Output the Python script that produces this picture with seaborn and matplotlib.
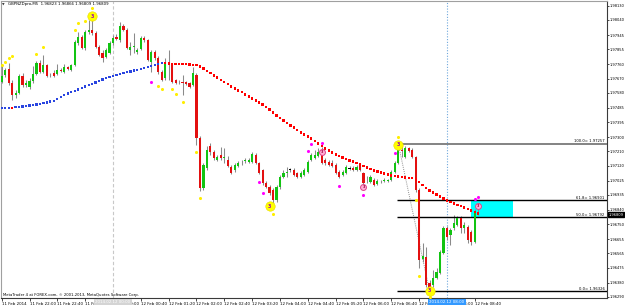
import numpy as np
import pandas as pd
import matplotlib
matplotlib.use("Agg")
import matplotlib.pyplot as plt
import matplotlib.transforms as mtransforms
import seaborn as sns

sns.set_style("white")
plt.rcParams['font.family'] = ['DejaVu Sans']

# ---------------- data (GBPNZDpro, M5) ----------------
opens = [1.97648, 1.97692, 1.97730, 1.97641, 1.97566, 1.97578, 1.97686, 1.97629, 1.97616, 1.97654,
         1.97698, 1.97768, 1.97711, 1.97755, 1.97686, 1.97705, 1.97698, 1.97724, 1.97711, 1.97743,
         1.97724, 1.97755, 1.97894, 1.97932, 1.97863, 1.97964, 1.97976, 1.97957, 1.97869, 1.97831,
         1.97806, 1.97831, 1.97894, 1.97932, 1.97913, 1.98002, 1.97976, 1.97850, 1.97869, 1.97837,
         1.97856, 1.97926, 1.97913, 1.97774, 1.97837, 1.97799, 1.97711, 1.97673, 1.97774, 1.97755,
         1.97660, 1.97648, 1.97648, 1.97648, 1.97641, 1.97629, 1.97692, 1.97294, 1.96978, 1.97104,
         1.97243, 1.97205, 1.97155, 1.97186, 1.97167, 1.97155, 1.97111, 1.97092, 1.97117, 1.97136,
         1.97148, 1.97142, 1.97142, 1.97186, 1.97136, 1.97092, 1.97009, 1.96984, 1.96965, 1.96902,
         1.96984, 1.97047, 1.97073, 1.97092, 1.97092, 1.97073, 1.97047, 1.97060, 1.97079, 1.97155,
         1.97167, 1.97180, 1.97218, 1.97155, 1.97142, 1.97136, 1.97123, 1.97079, 1.97060, 1.97073,
         1.97104, 1.97104, 1.97092, 1.97123, 1.97073, 1.97041, 1.97016, 1.97028, 1.97003, 1.97016,
         1.97022, 1.97022, 1.97028, 1.97079, 1.97136, 1.97218, 1.97174, 1.97231, 1.97218, 1.97174,
         1.96965, 1.96529, 1.96542, 1.96377, 1.96365, 1.96409, 1.96441, 1.96567, 1.96725, 1.96681,
         1.96725, 1.96744, 1.96788, 1.96725, 1.96731, 1.96700, 1.96637, 1.96823]
highs = [1.97755, 1.97736, 1.97768, 1.97660, 1.97597, 1.97698, 1.97705, 1.97660, 1.97673, 1.97749,
         1.97780, 1.97787, 1.97818, 1.97762, 1.97705, 1.97724, 1.97762, 1.97736, 1.97762, 1.97749,
         1.97762, 1.97913, 1.97964, 1.97945, 1.97976, 1.98040, 1.98046, 1.97970, 1.97882, 1.97850,
         1.97863, 1.97907, 1.97945, 1.97951, 1.98027, 1.98014, 1.97989, 1.97901, 1.97957, 1.97863,
         1.97938, 1.97938, 1.97920, 1.97850, 1.97850, 1.97812, 1.97724, 1.97799, 1.97850, 1.97768,
         1.97667, 1.97660, 1.97692, 1.97654, 1.97648, 1.97743, 1.97705, 1.97306, 1.97136, 1.97243,
         1.97262, 1.97218, 1.97186, 1.97237, 1.97231, 1.97180, 1.97123, 1.97136, 1.97148, 1.97155,
         1.97167, 1.97167, 1.97205, 1.97199, 1.97142, 1.97098, 1.97022, 1.96997, 1.96978, 1.96997,
         1.97060, 1.97092, 1.97111, 1.97104, 1.97104, 1.97079, 1.97085, 1.97104, 1.97155, 1.97199,
         1.97218, 1.97231, 1.97237, 1.97167, 1.97155, 1.97155, 1.97136, 1.97092, 1.97092, 1.97123,
         1.97117, 1.97117, 1.97123, 1.97136, 1.97079, 1.97054, 1.97060, 1.97041, 1.97035, 1.97028,
         1.97041, 1.97035, 1.97092, 1.97148, 1.97257, 1.97250, 1.97243, 1.97237, 1.97231, 1.97180,
         1.96978, 1.96630, 1.96605, 1.96396, 1.96460, 1.96472, 1.96586, 1.96738, 1.96738, 1.96725,
         1.96807, 1.96801, 1.96801, 1.96763, 1.96744, 1.96712, 1.96845, 1.96866]
lows = [1.97641, 1.97679, 1.97629, 1.97534, 1.97547, 1.97572, 1.97616, 1.97616, 1.97604, 1.97641,
        1.97692, 1.97705, 1.97705, 1.97679, 1.97679, 1.97679, 1.97692, 1.97711, 1.97705, 1.97724,
        1.97717, 1.97749, 1.97882, 1.97856, 1.97850, 1.97951, 1.97945, 1.97863, 1.97812, 1.97774,
        1.97799, 1.97825, 1.97882, 1.97913, 1.97901, 1.97970, 1.97856, 1.97818, 1.97831, 1.97825,
        1.97850, 1.97901, 1.97780, 1.97711, 1.97787, 1.97698, 1.97654, 1.97660, 1.97660, 1.97641,
        1.97635, 1.97635, 1.97566, 1.97629, 1.97610, 1.97622, 1.97250, 1.96959, 1.96965, 1.97092,
        1.97186, 1.97155, 1.97148, 1.97155, 1.97136, 1.97111, 1.97066, 1.97079, 1.97111, 1.97123,
        1.97136, 1.97136, 1.97136, 1.97130, 1.97066, 1.96997, 1.96978, 1.96934, 1.96870, 1.96889,
        1.96972, 1.97041, 1.97047, 1.97079, 1.97054, 1.97041, 1.97041, 1.97054, 1.97073, 1.97148,
        1.97161, 1.97174, 1.97130, 1.97123, 1.97117, 1.97111, 1.97066, 1.97041, 1.97054, 1.97066,
        1.97092, 1.97085, 1.97085, 1.97085, 1.96990, 1.97009, 1.97009, 1.96990, 1.96997, 1.97009,
        1.97016, 1.97016, 1.97022, 1.97073, 1.97130, 1.97174, 1.97167, 1.97205, 1.97167, 1.96953,
        1.96472, 1.96510, 1.96352, 1.96326, 1.96352, 1.96403, 1.96434, 1.96561, 1.96649, 1.96618,
        1.96712, 1.96738, 1.96693, 1.96693, 1.96630, 1.96618, 1.96630, 1.96809]
closes = [1.97686, 1.97724, 1.97641, 1.97566, 1.97578, 1.97686, 1.97629, 1.97641, 1.97654, 1.97698,
          1.97768, 1.97711, 1.97755, 1.97686, 1.97686, 1.97686, 1.97724, 1.97717, 1.97743, 1.97730,
          1.97755, 1.97901, 1.97932, 1.97863, 1.97964, 1.97976, 1.97957, 1.97869, 1.97818, 1.97799,
          1.97850, 1.97894, 1.97926, 1.97920, 1.98002, 1.97976, 1.97863, 1.97869, 1.97875, 1.97850,
          1.97926, 1.97913, 1.97787, 1.97837, 1.97799, 1.97711, 1.97660, 1.97774, 1.97755, 1.97648,
          1.97641, 1.97648, 1.97645, 1.97635, 1.97616, 1.97705, 1.97294, 1.96978, 1.97123, 1.97218,
          1.97205, 1.97167, 1.97174, 1.97167, 1.97174, 1.97117, 1.97073, 1.97123, 1.97136, 1.97136,
          1.97155, 1.97155, 1.97193, 1.97136, 1.97073, 1.97009, 1.96984, 1.96946, 1.96902, 1.96984,
          1.97047, 1.97073, 1.97079, 1.97092, 1.97060, 1.97047, 1.97073, 1.97092, 1.97142, 1.97186,
          1.97186, 1.97205, 1.97136, 1.97136, 1.97123, 1.97117, 1.97073, 1.97047, 1.97079, 1.97111,
          1.97104, 1.97092, 1.97111, 1.97092, 1.97009, 1.97041, 1.97047, 1.96997, 1.97022, 1.97016,
          1.97028, 1.97028, 1.97079, 1.97136, 1.97218, 1.97215, 1.97231, 1.97212, 1.97174, 1.96965,
          1.96523, 1.96548, 1.96365, 1.96346, 1.96409, 1.96447, 1.96573, 1.96725, 1.96668, 1.96712,
          1.96757, 1.96788, 1.96725, 1.96744, 1.96649, 1.96637, 1.96826, 1.96809]

ma_values = [1.97483, 1.97485, 1.97486, 1.97485, 1.97488, 1.97490, 1.97493, 1.97495, 1.97499, 1.97502,
             1.97506, 1.97509, 1.97514, 1.97519, 1.97524, 1.97530, 1.97540, 1.97551, 1.97564, 1.97576,
             1.97585, 1.97593, 1.97601, 1.97610, 1.97619, 1.97628, 1.97636, 1.97645, 1.97655, 1.97664,
             1.97673, 1.97680, 1.97686, 1.97693, 1.97698, 1.97704, 1.97710, 1.97715, 1.97720, 1.97726,
             1.97732, 1.97737, 1.97744, 1.97750, 1.97755, 1.97762, 1.97767, 1.97766, 1.97765, 1.97764,
             1.97763, 1.97762, 1.97761, 1.97760, 1.97758, 1.97756, 1.97755, 1.97746, 1.97733, 1.97717,
             1.97705, 1.97689, 1.97676, 1.97660, 1.97648, 1.97635, 1.97619, 1.97607, 1.97594, 1.97585,
             1.97569, 1.97556, 1.97543, 1.97531, 1.97518, 1.97506, 1.97490, 1.97474, 1.97455, 1.97436,
             1.97420, 1.97404, 1.97389, 1.97373, 1.97360, 1.97344, 1.97329, 1.97316, 1.97303, 1.97291,
             1.97275, 1.97259, 1.97243, 1.97227, 1.97215, 1.97202, 1.97190, 1.97180, 1.97171, 1.97161,
             1.97152, 1.97145, 1.97136, 1.97126, 1.97117, 1.97107, 1.97098, 1.97088, 1.97082, 1.97076,
             1.97069, 1.97063, 1.97057, 1.97054, 1.97051, 1.97047, 1.97044, 1.97042, 1.97040, 1.97032,
             1.97016, 1.96997, 1.96978, 1.96962, 1.96949, 1.96937, 1.96924, 1.96911, 1.96899, 1.96889,
             1.96880, 1.96870, 1.96864, 1.96855, 1.96845, 1.96836, 1.96826, 1.96820]

yellow_bars = [0, 1, 2, 3, 10, 12, 21, 22, 24, 26, 45, 46, 49, 50, 52, 56, 57, 78, 114, 119, 120, 123]
yellow_prices = [1.97755, 1.97774, 1.97799, 1.97812, 1.97825, 1.97869, 1.97976, 1.98021, 1.98033, 1.98115,
                 1.97622, 1.97604, 1.97604, 1.97572, 1.97521, 1.97205, 1.96915, 1.96814, 1.97300, 1.96902,
                 1.96422, 1.96289]
magenta_bars = [43, 74, 75, 88, 89, 92, 97, 104, 113, 136, 137]
magenta_prices = [1.97648, 1.97016, 1.96946, 1.97212, 1.97256, 1.97262, 1.96990, 1.96934, 1.97199,
                  1.96908, 1.96921]

swing_bars = [26, 77, 114, 123]
swing_prices = [1.98065, 1.96864, 1.97250, 1.96329]
pink_bars = [92, 104, 137]
pink_prices = [1.97205, 1.96984, 1.96864]

fib_names = ["100.0", "61.8", "50.0", "0.0"]
fib_prices = [1.97257, 1.96901, 1.96792, 1.96326]

price_ticks = [1.98130, 1.98040, 1.97945, 1.97855, 1.97760, 1.97670, 1.97580, 1.97485, 1.97395,
               1.97300, 1.97210, 1.97120, 1.97025, 1.96935, 1.96840, 1.96750, 1.96655, 1.96565,
               1.96475, 1.96380, 1.96290]
time_tick_bars = [0, 8, 16, 24, 32, 40, 48, 56, 64, 72, 80, 88, 96, 104, 112, 120, 128, 136]
time_tick_labels = ["11 Feb 2014", "11 Feb 22:00", "11 Feb 22:40", "11 Feb 23:20", "12 Feb 00:00",
                    "12 Feb 00:40", "12 Feb 01:20", "12 Feb 02:00", "12 Feb 02:40", "12 Feb 03:20",
                    "12 Feb 04:00", "12 Feb 04:40", "12 Feb 05:20", "12 Feb 06:00", "12 Feb 06:40",
                    "12 Feb 07:20", "12 Feb 08:00", "12 Feb 08:40"]
title_text = "GBPNZDpro,M5  1.96823 1.96866 1.96809 1.96809"
bid_price = 1.96809

# ---------------- figure ----------------
W, H = 625, 306
fig = plt.figure(figsize=(W / 100, H / 100), dpi=100)
ax = fig.add_axes([1.5 / W, (H - 297.7) / H, 605.5 / W, 296.7 / H])
ax.set_facecolor("white")

n = len(opens)
idx = np.arange(n)
df = pd.DataFrame({"bar": idx, "open": opens, "high": highs, "low": lows, "close": closes,
                   "ma": ma_values})

# cyan zone between 61.8 and 50 levels
ax.fill_between([134.9, 147.1], fib_prices[2], fib_prices[1], color="#00ffff", zorder=1, linewidth=0)

# vertical line objects
ax.axvline(32, color="#c8c8c8", lw=0.8, ls=(0, (3, 2)), zorder=0.5)
ax.axvline(128, color="#6fa8dc", lw=0.8, ls=(0, (1, 1.5)), zorder=0.5)

# wicks
ax.vlines(df["bar"], df["low"], df["high"], color="#8a8a8a", lw=0.75, zorder=2)
# bodies
diff = df["close"] - df["open"]
body_col = np.where(diff.abs() < 0.00002, "#000000", np.where(diff > 0, "#12c412", "#e31010"))
body_h = np.maximum(diff.abs(), 0.00006)
body_bottom = np.minimum(df["open"], df["close"]) - np.where(diff.abs() < 0.00006, (0.00006 - diff.abs()) / 2, 0)
ax.bar(df["bar"], body_h, bottom=body_bottom, width=0.62, color=body_col, linewidth=0, zorder=3)

# moving average dots (blue rising / red falling)
direction = np.where(np.diff(np.r_[ma_values[0] - 1e-6, ma_values]) >= 0, "up", "down")
df["dir"] = direction
sns.scatterplot(data=df, x="bar", y="ma", hue="dir", palette={"up": "#2a45e0", "down": "#ff0000"},
                marker="s", s=2.6, linewidth=0, legend=False, ax=ax, zorder=4)

# fib object
ax.plot([114, 123], [fib_prices[0], fib_prices[3]], color="#8c8c8c", lw=0.7, ls=(0, (1, 1.2)), zorder=2.5)
for name, p in zip(fib_names, fib_prices):
    col = "#7a7a7a" if name == "100.0" else "#000000"
    lw = 1.3 if name == "100.0" else 1.0
    ax.plot([113.6, 174.5], [p, p], color=col, lw=lw, zorder=2.6, solid_capstyle="butt")
    ax.text(173.3, p + 0.00003, f"{name}= {p:.5f}", fontsize=2.7, ha="right", va="bottom",
            color="#000000", zorder=6)

# signal dots
sns.scatterplot(x=yellow_bars, y=yellow_prices, color="#ffee00", s=5, linewidth=0, ax=ax, zorder=5)
sns.scatterplot(x=magenta_bars, y=magenta_prices, color="#ff00ff", s=5, linewidth=0, ax=ax, zorder=5)

# swing markers
sns.scatterplot(x=swing_bars, y=swing_prices, color="#ffff00", s=46, linewidth=0.4,
                edgecolor="#e8d800", ax=ax, zorder=6)
for b, p in zip(swing_bars, swing_prices):
    ax.text(b, p, "3", fontsize=3.4, color="#9a00b0", ha="center", va="center",
            fontweight="bold", zorder=7)
sns.scatterplot(x=pink_bars, y=pink_prices, color="#ffb0d8", s=18, linewidth=0.7,
                edgecolor="#e0408a", ax=ax, zorder=6)
for b, p in zip(pink_bars, pink_prices):
    ax.text(b, p, "3", fontsize=2.4, color="#a0003c", ha="center", va="center",
            fontweight="bold", zorder=7)

# axes ranges
ax.set_xlim(-0.05, 174.0)
ax.set_ylim(1.962845, 1.981600)

# right price scale
ax.yaxis.tick_right()
ax.set_yticks(price_ticks)
ax.set_yticklabels([f"{v:.5f}" for v in price_ticks])
ax.tick_params(axis="y", which="both", right=True, left=False, length=1.4, width=0.5,
               pad=0.6, labelsize=2.6, colors="#000000")
ax.set_xticks(time_tick_bars)
ax.set_xticklabels(time_tick_labels)
ax.tick_params(axis="x", bottom=True, length=2, width=0.5, pad=1.2, labelsize=2.9, colors="#000000")
for lab in ax.get_xticklabels():
    lab.set_ha("left")
ax.set_xlabel("")
ax.set_ylabel("")

for side in ["left", "top"]:
    ax.spines[side].set_color("#a0a0a0")
    ax.spines[side].set_linewidth(0.8)
for side in ["right", "bottom"]:
    ax.spines[side].set_color("#3a3a3a")
    ax.spines[side].set_linewidth(0.8)

# current price box
trans_y = mtransforms.blended_transform_factory(ax.transAxes, ax.transData)
ax.text(1.0025, bid_price, f"{bid_price:.5f}", transform=trans_y, fontsize=2.6, color="white",
        ha="left", va="center", zorder=10, clip_on=False,
        bbox=dict(facecolor="black", edgecolor="black", boxstyle="square,pad=0.2"))

# time-axis labels of vertical line objects
trans_x = mtransforms.blended_transform_factory(ax.transData, ax.transAxes)
ax.text(32, -0.0135, "2014.02.12 00:00", transform=trans_x, fontsize=2.9, color="white",
        ha="center", va="center", clip_on=False, zorder=10,
        bbox=dict(facecolor="#d4d4d4", edgecolor="none", boxstyle="square,pad=0.25"))
ax.text(128, -0.0135, "2014.02.12 08:00", transform=trans_x, fontsize=2.9, color="white",
        ha="center", va="center", clip_on=False, zorder=10,
        bbox=dict(facecolor="#3399ff", edgecolor="none", boxstyle="square,pad=0.25"))

# header and copyright texts
ax.text(0.0015, 0.9955, "\u25bc", transform=ax.transAxes, fontsize=2.4, ha="left", va="top", color="#333333")
ax.text(0.0105, 0.9966, title_text, transform=ax.transAxes, fontsize=2.8, ha="left", va="top",
        color="#000000")
ax.text(0.0025, 0.009, "MetaTrader 4 at FOREX.com, \u00a9 2001-2013, MetaQuotes Software Corp.",
        transform=ax.transAxes, fontsize=2.7, ha="left", va="center", color="#000000")

fig.savefig("out.png", dpi=100, facecolor="white")
